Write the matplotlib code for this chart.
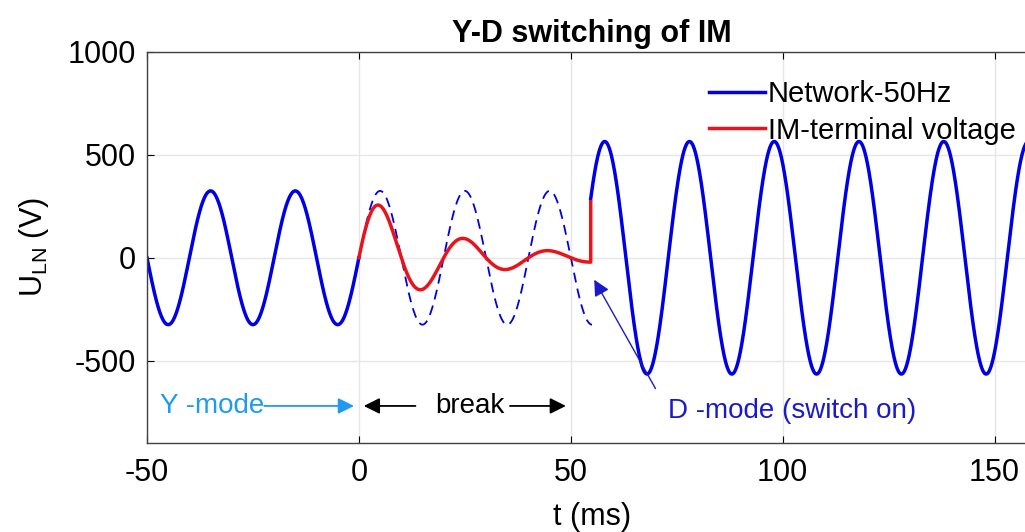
import numpy as np
import matplotlib
matplotlib.use('Agg')
import matplotlib.pyplot as plt

plt.rcParams['font.family'] = ['Liberation Sans', 'DejaVu Sans']
plt.rcParams['axes.unicode_minus'] = False

# waveform parameters (ms, V)
f_net = 50.0            # network frequency, Hz
amp_y = 325.0           # phase voltage amplitude in Y connection
amp_d = 565.0           # phase voltage amplitude in D connection
t_break = 0.0           # supply disconnected
t_switch = 54.7         # D connection switched on
t_dashed_end = 55.0
d_peak = 58.0           # first peak after switching on
tau_decay = 20.0        # decay of the residual motor voltage, ms
x_range = [-50, 160]
y_range = [-900, 1000]
x_ticks = [-50, 0, 50, 100, 150]
y_ticks = [-500, 0, 500, 1000]

w = 2 * np.pi * f_net / 1000.0

t_y = np.linspace(-50, t_break, 400)
t_gap = np.linspace(t_break, t_dashed_end, 400)
t_d = np.linspace(t_switch, 160, 1200)
t_im = np.linspace(t_break, t_switch, 400)

u_y = amp_y * np.sin(w * t_y)
u_gap = amp_y * np.sin(w * t_gap)
u_d = amp_d * np.cos(w * (t_d - d_peak))
u_im = amp_y * np.exp(-t_im / tau_decay) * np.sin(w * t_im)

blue = '#0000e6'
red = '#e8141b'

fig = plt.figure(figsize=(10.25, 5.32), dpi=100)
ax = fig.add_axes([0.1434, 0.1673, 0.8683, 0.735])

ax.plot(t_y, u_y, color=blue, lw=2.5, label='Network-50Hz')
ax.plot(t_gap, u_gap, color=blue, lw=1.3, ls=(0, (5.5, 3.5)))
ax.plot(t_d, u_d, color=blue, lw=2.5)
ax.plot(np.append(t_im, t_switch), np.append(u_im, u_d[0] - 15),
        color=red, lw=2.5, label='IM-terminal voltage')

ax.set_xlim(x_range)
ax.set_ylim(y_range)
ax.set_xticks(x_ticks)
ax.set_yticks(y_ticks)
ax.tick_params(direction='in', top=True, right=True, labelsize=22,
               length=5, width=0.8)
ax.tick_params(axis='x', pad=11)
ax.tick_params(axis='y', pad=8)
ax.grid(True, color='#e6e6e6', lw=1.0)
ax.set_axisbelow(True)
for s in ax.spines.values():
    s.set_color('#404040')
    s.set_linewidth(1.0)

ax.set_title('Y-D switching of IM', fontsize=22, fontweight='bold', pad=7)
ax.set_xlabel('t (ms)', fontsize=22, labelpad=10)
ax.set_ylabel(r'U$_\mathregular{LN}$ (V)', fontsize=22, labelpad=12)

leg = ax.legend(loc='upper right', bbox_to_anchor=(0.996, 0.972), frameon=False,
                fontsize=21, handlelength=1.9, handletextpad=0.12,
                labelspacing=0.28, borderaxespad=0.2)

# mode annotations
lblue = '#1e9bf0'
ax.text(-47, -720, 'Y -mode', color=lblue, fontsize=20, va='center', ha='left')
ax.annotate('', xy=(-0.5, -720), xytext=(-23, -720),
            arrowprops=dict(arrowstyle='-|>', color=lblue, lw=1.3,
                            mutation_scale=24))
ax.text(26.2, -720, 'break', color='black', fontsize=20, va='center', ha='center')
ax.annotate('', xy=(0.5, -720), xytext=(14, -720),
            arrowprops=dict(arrowstyle='-|>', color='black', lw=1.3,
                            mutation_scale=24))
ax.annotate('', xy=(49.5, -720), xytext=(35, -720),
            arrowprops=dict(arrowstyle='-|>', color='black', lw=1.3,
                            mutation_scale=24))
ax.text(72.9, -745, 'D -mode (switch on)', color='#1a1acc', fontsize=20,
        va='center', ha='left')
ax.annotate('', xy=(55.2, -95), xytext=(70.3, -647),
            arrowprops=dict(arrowstyle='-|>', color='#1a1acc', lw=1.0,
                            mutation_scale=24))

fig.savefig('out.png', dpi=100)
